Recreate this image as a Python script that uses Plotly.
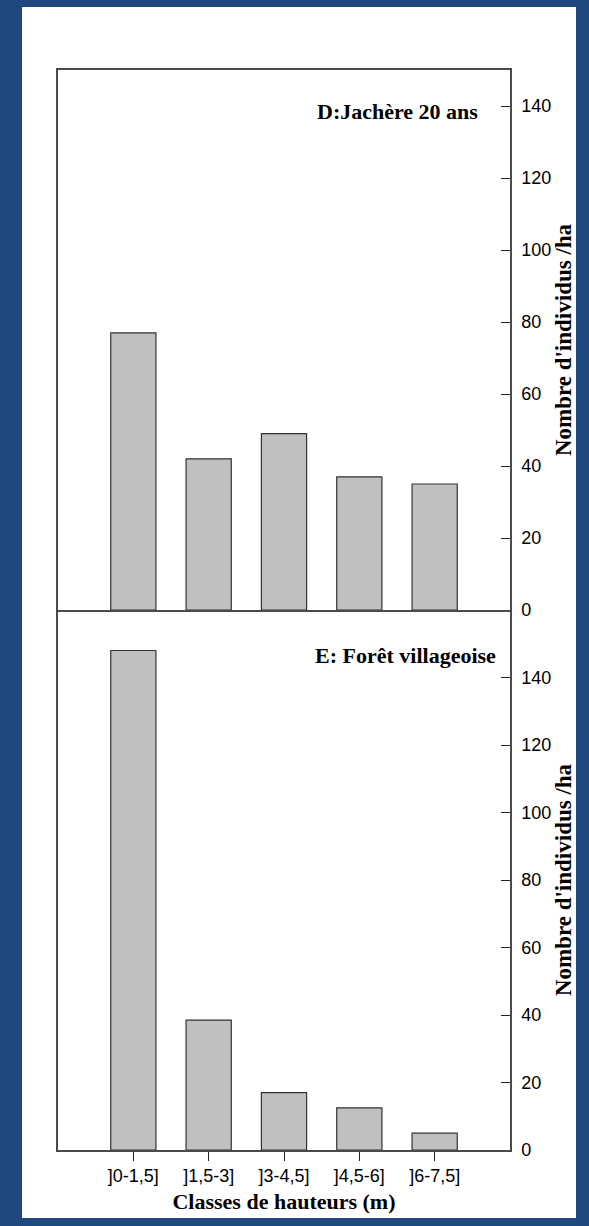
import plotly.graph_objects as go

categories = ["]0-1,5]", "]1,5-3]", "]3-4,5]", "]4,5-6]", "]6-7,5]"]
jachere_20 = [77, 42, 49, 37, 35]
foret_villageoise = [148, 38.5, 17, 12.5, 5]
y_ticks = [0, 20, 40, 60, 80, 100, 120, 140]

W, H = 589, 1226
L, R, T, B = 58, 79, 70, 76
PW, PH = W - L - R, H - T - B

BLUE = "#1F497D"
LINE = "#4a4a4a"
SERIF = "Liberation Serif, Times New Roman, serif"
SANS = "Liberation Sans, Arial, sans-serif"

def px_x(p):
    return (p - L) / PW

def px_y(p):
    return (H - B - p) / PH

fig = go.Figure()
bar_style = dict(marker=dict(color="#C0C0C0", line=dict(color="#333333", width=1.2)),
                 width=0.6, showlegend=False, hoverinfo="skip")
fig.add_trace(go.Bar(x=categories, y=jachere_20, xaxis="x", yaxis="y", **bar_style))
fig.add_trace(go.Bar(x=categories, y=foret_villageoise, xaxis="x2", yaxis="y2", **bar_style))

yaxis_common = dict(side="right", showline=True, linecolor=LINE, linewidth=1.5, mirror=True,
                    ticks="inside", ticklen=9, tickcolor="#222", tickwidth=1.2,
                    tickvals=y_ticks, showgrid=False, zeroline=False,
                    tickfont=dict(family=SANS, size=18, color="black"),
                    ticklabelstandoff=6,
                    title=dict(text="<b>Nombre d'individus /ha</b>",
                               font=dict(family=SERIF, size=23, color="black"), standoff=4))

fig.update_layout(
    width=W, height=H,
    margin=dict(l=L, r=R, t=T, b=B),
    paper_bgcolor=BLUE, plot_bgcolor="white",
    bargap=0.4,
    xaxis=dict(domain=[0, 1], anchor="y", type="category", range=[-1, 5],
               showline=True, linecolor=LINE, linewidth=1.5, mirror=True,
               showticklabels=False, ticks="", showgrid=False),
    yaxis=dict(domain=[0.5, 1], anchor="x", range=[0, 150], **yaxis_common),
    xaxis2=dict(domain=[0, 1], anchor="y2", type="category", range=[-1, 5],
                showline=True, linecolor=LINE, linewidth=1.5, mirror=False,
                ticks="outside", ticklen=9, tickcolor="#222", tickwidth=1.2, showgrid=False,
                tickfont=dict(family=SANS, size=18, color="black"),
                title=dict(text="<b>Classes de hauteurs (m)</b>",
                           font=dict(family=SERIF, size=22, color="black"), standoff=8)),
    yaxis2=dict(domain=[0, 0.5], anchor="x2", range=[0, 160], **yaxis_common),
    shapes=[dict(type="rect", xref="paper", yref="paper", layer="below",
                 x0=px_x(22), x1=px_x(576), y0=px_y(1218), y1=px_y(7),
                 fillcolor="white", line=dict(width=0))],
    annotations=[
        dict(text="<b>D:Jachère 20 ans</b>", xref="paper", yref="paper",
             x=px_x(480), y=px_y(112), xanchor="right", yanchor="middle", showarrow=False,
             font=dict(family=SERIF, size=22, color="black")),
        dict(text="<b>E: Forêt villageoise</b>", xref="paper", yref="paper",
             x=px_x(498), y=px_y(656), xanchor="right", yanchor="middle", showarrow=False,
             font=dict(family=SERIF, size=22, color="black")),
    ],
)

fig.write_html("out.html",
               config={"displayModeBar": False},
               post_script="document.body.style.margin='0';"
                           "document.body.style.overflow='hidden';"
                           "document.body.style.background='" + BLUE + "';")
